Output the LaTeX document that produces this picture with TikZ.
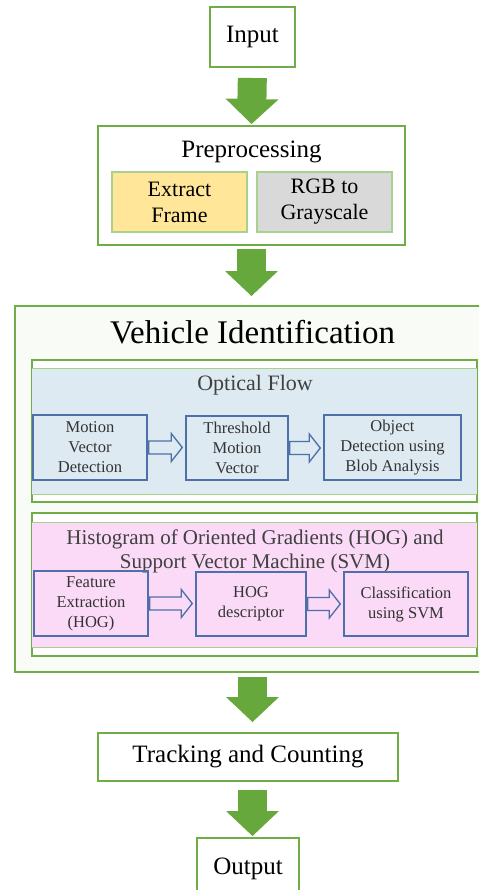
\documentclass[tikz,border=0pt]{standalone}
\usepackage{fontspec}
\setmainfont{Liberation Serif}
\usetikzlibrary{arrows.meta,calc}
\definecolor{boxgreen}{HTML}{70AD47}
\definecolor{lightgreen}{HTML}{A9D18E}
\definecolor{arrowgreen}{HTML}{67A83D}
\definecolor{flowblue}{HTML}{DEEAF1}
\definecolor{hogpink}{HTML}{FADAF6}
\definecolor{stepblue}{HTML}{4E70A8}
\definecolor{frameyellow}{HTML}{FFE699}
\definecolor{graybox}{HTML}{D9D9D9}
\definecolor{panelbg}{HTML}{F9FBF6}
\definecolor{textgray}{HTML}{404040}
\tikzset{
  mainbox/.style={draw=boxgreen, line width=1.5pt, fill=white, inner sep=0pt, align=center, font=\fontsize{18.75}{22}\selectfont},
  subbox/.style={draw=lightgreen, line width=0.9pt, inner sep=0pt, align=center, font=\fontsize{16.5}{19.5}\selectfont},
  panelbox/.style={draw=boxgreen, line width=1.1pt, fill=white, inner sep=0pt},
  panelfill/.style={inner sep=0pt, minimum width=333.75pt},
  stepbox/.style={draw=stepblue, line width=1.1pt, inner sep=0pt, align=center, text=black!80, font=\fontsize{12.4}{15}\selectfont},
  sectitle/.style={text=textgray, align=center},
  bigarrow/.style={arrowgreen, line width=21.75pt, -{Triangle[width=39.75pt,length=18.75pt,line width=0pt]}},
  hollowarr/.style={draw=stepblue, line width=1pt}
}
% hollow block arrow from one box to the next
\newcommand{\hollowarrow}[2]{%
  \draw[hollowarr] let \p1=($(#1.east)+(1,0)$), \p2=($(#2.west)-(3,0)$) in
    (\x1,\y1+4.9pt) -- (\x2-8.25pt,\y1+4.9pt) -- (\x2-8.25pt,\y1+10.5pt) -- (\x2,\y1)
    -- (\x2-8.25pt,\y1-10.5pt) -- (\x2-8.25pt,\y1-4.9pt) -- (\x1,\y1-4.9pt) -- cycle;}
\begin{document}
\begin{tikzpicture}[x=0.75pt,y=-0.75pt]
	\useasboundingbox (0,0) rectangle (479,890);
	\clip (0,0) rectangle (479,890);
	% input and preprocessing
	\node[mainbox, minimum width=63.75pt, minimum height=45pt] (in) at (252.5,37) {Input};
	\node[mainbox, minimum width=230.25pt, minimum height=89.25pt] (pre) at (251.5,185.5) {};
	\node[font=\fontsize{18.75}{22}\selectfont] (pretitle) at (251.5,152) {Preprocessing};
	\node[subbox, fill=frameyellow, minimum width=101.25pt, minimum height=45pt] (ext) at (179.5,202) {Extract\\Frame};
	\node[subbox, fill=graybox, minimum width=101.25pt, minimum height=45pt] (rgb) at (324.5,202) {RGB to\\Grayscale};
	% vehicle identification
	\node[draw=boxgreen, line width=1.5pt, fill=panelbg, minimum width=356.25pt, minimum height=274.5pt] (veh) at (252.5,489) {};
	\node[font=\fontsize{24.75}{28}\selectfont] (vehtitle) at (252.5,332) {Vehicle Identification};
	% optical flow
	\node[panelbox, minimum width=333.75pt, minimum height=106.5pt] (of) at (254.5,431) {};
	\node[panelfill, fill=flowblue, minimum height=93.75pt] (ofin) at (254.5,431.5) {};
	\draw[lightgreen, line width=0.8pt] (ofin.north west) -- (ofin.north east);
	\draw[lightgreen, line width=0.8pt] (ofin.south west) -- (ofin.south east);
	\draw[boxgreen, line width=1.1pt] (of.south west) rectangle (of.north east);
	\node[sectitle, font=\fontsize{16.5}{19}\selectfont] (oftitle) at (255,385) {Optical Flow};
	\node[stepbox, minimum width=85.5pt, minimum height=48.75pt] (mvd) at (90,447.5) {Motion\\Vector\\Detection};
	\node[stepbox, minimum width=76.5pt, minimum height=48pt] (tmv) at (237,448) {Threshold\\Motion\\Vector};
	\node[stepbox, minimum width=102.75pt, minimum height=48.75pt] (obd) at (392.5,447.5) {Object\\Detection using\\Blob Analysis};
	\hollowarrow{mvd}{tmv}
	\hollowarrow{tmv}{obd}
	% hog and svm
	\node[panelbox, minimum width=333.75pt, minimum height=107.25pt] (hog) at (254.5,584.5) {};
	\node[panelfill, fill=hogpink, minimum height=93pt] (hogin) at (254.5,585) {};
	\draw[lightgreen, line width=0.8pt] (hogin.north west) -- (hogin.north east);
	\draw[lightgreen, line width=0.8pt] (hogin.south west) -- (hogin.south east);
	\draw[boxgreen, line width=1.1pt] (hog.south west) rectangle (hog.north east);
	\node[sectitle, font=\fontsize{15.75}{18}\selectfont] (hogtitle) at (255,551) {Histogram of Oriented Gradients (HOG) and\\Support Vector Machine (SVM)};
	\node[stepbox, minimum width=85.5pt, minimum height=48.75pt] (fe) at (91,603.5) {Feature\\Extraction\\(HOG)};
	\node[stepbox, minimum width=82.5pt, minimum height=48pt] (hd) at (251,604) {HOG\\descriptor};
	\node[stepbox, minimum width=93pt, minimum height=48pt] (cls) at (406,604) {Classification\\using SVM};
	\hollowarrow{fe}{hd}
	\hollowarrow{hd}{cls}
	% tracking and output
	\node[mainbox, minimum width=225pt, minimum height=36pt] (trk) at (248,757) {Tracking and Counting};
	\node[mainbox, minimum width=76.5pt, minimum height=46.5pt] (out) at (248,869) {Output};
	% big arrows
	\draw[bigarrow, shorten <=7.5pt, shorten >=0.75pt] (in.south) -- (pre.north);
	\draw[bigarrow, shorten <=2.25pt, shorten >=6.75pt] (pre.south) -- (pre.south |- veh.north);
	\draw[bigarrow, shorten <=3pt, shorten >=7.5pt] (veh.south) -- (veh.south |- trk.north);
	\draw[bigarrow, shorten <=6pt, shorten >=0.75pt] (trk.south -| in.south) -- (out.north -| in.south);
\end{tikzpicture}
\end{document}
